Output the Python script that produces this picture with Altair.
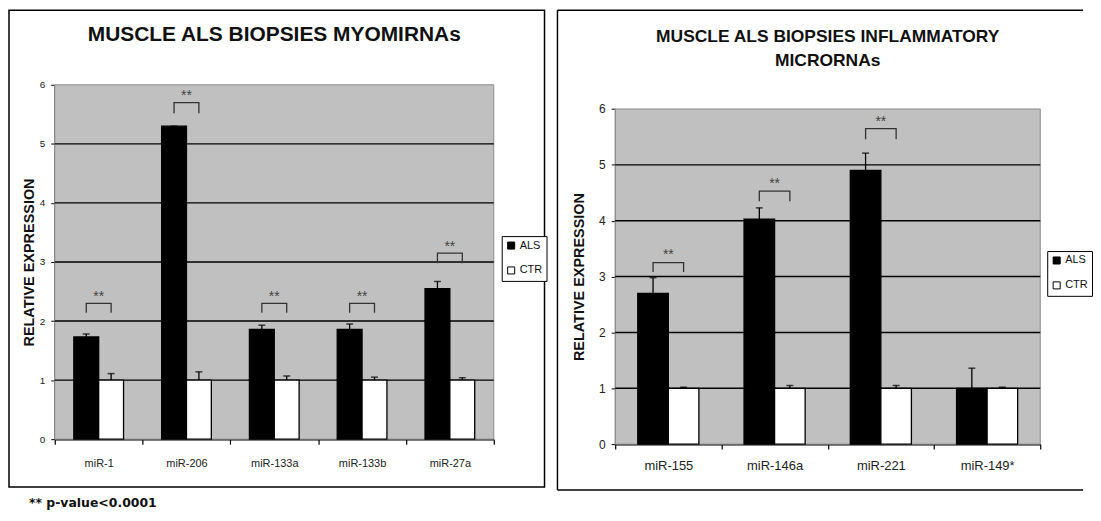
import altair as alt
import pandas as pd

# ---------------- data ----------------
groups = ["ALS", "CTR"]

left_title = "MUSCLE ALS BIOPSIES MYOMIRNAs"
left_cats = ["miR-1", "miR-206", "miR-133a", "miR-133b", "miR-27a"]
left_als = [1.73, 5.30, 1.86, 1.86, 2.55]
left_als_err = [1.78, 5.30, 1.93, 1.95, 2.67]
left_ctr = [1.00, 1.00, 1.00, 1.00, 1.00]
left_ctr_err = [1.11, 1.14, 1.07, 1.05, 1.04]
left_sig_cats = ["miR-1", "miR-206", "miR-133a", "miR-133b", "miR-27a"]
left_bracket = [2.30, 5.70, 2.30, 2.30, 3.15]
left_bracket_leg = [2.14, 5.52, 2.14, 2.14, 2.98]
left_star = [2.47, 5.88, 2.48, 2.48, 3.32]

right_title_1 = "MUSCLE ALS BIOPSIES INFLAMMATORY"
right_title_2 = "MICRORNAs"
right_cats = ["miR-155", "miR-146a", "miR-221", "miR-149*"]
right_als = [2.70, 4.03, 4.90, 1.00]
right_als_err = [2.98, 4.23, 5.21, 1.36]
right_ctr = [1.00, 1.00, 1.00, 1.00]
right_ctr_err = [1.02, 1.05, 1.05, 1.02]
right_sig_cats = ["miR-155", "miR-146a", "miR-221"]
right_bracket = [3.25, 4.53, 5.65]
right_bracket_leg = [3.08, 4.35, 5.46]
right_star = [3.46, 4.72, 5.83]

y_ticks = [0, 1, 2, 3, 4, 5, 6]
grid_vals = [1, 2, 3, 4, 5]
footnote = "** p-value<0.0001"
y_title = "RELATIVE EXPRESSION"

FONT = "Liberation Sans"
NO_VIEW = alt.ViewBackground(stroke="transparent", strokeWidth=0, fill="transparent")


def panel(cats, als, als_err, ctr, ctr_err, sig_cats, br, br_leg, star,
          W, yrange, off_pad, xlab_size, xlab_pad, ylab_size, ytitle_pad,
          legx, legy, leg_font):
    n = len(cats)
    bars = pd.DataFrame({
        "cat": cats + cats,
        "grp": [groups[0]] * n + [groups[1]] * n,
        "val": als + ctr,
        "err": als_err + ctr_err,
    })
    rows = []
    for c, t, l in zip(sig_cats, br, br_leg):
        rows += [
            {"cat": c, "grp": "ALS", "val": l, "o": 0},
            {"cat": c, "grp": "ALS", "val": t, "o": 1},
            {"cat": c, "grp": "CTR", "val": t, "o": 2},
            {"cat": c, "grp": "CTR", "val": l, "o": 3},
        ]
    brk = pd.DataFrame(rows)
    stars = pd.DataFrame({"cat": sig_cats, "val": star, "t": ["**"] * len(sig_cats)})
    grid = pd.DataFrame({"val": grid_vals})
    bg = pd.DataFrame({"val": [y_ticks[0]], "hi": [y_ticks[-1]]})

    xaxis = alt.Axis(title=None, labelAngle=0, tickBand="extent", tickSize=5,
                     tickColor="black", tickWidth=1.2, domainColor="black",
                     domainWidth=1.5, labelFontSize=xlab_size, labelPadding=xlab_pad,
                     labelColor="#222", labelFont=FONT)
    x = alt.X("cat:N", sort=cats, scale=alt.Scale(paddingInner=0, paddingOuter=0),
              axis=xaxis)
    xo = alt.XOffset("grp:N", sort=groups,
                     scale=alt.Scale(domain=groups, paddingInner=0, paddingOuter=off_pad))
    yaxis = alt.Axis(values=y_ticks, format="d", grid=False, title=y_title,
                     titleFont=FONT, titleFontSize=14.5, titleFontWeight="bold",
                     titleColor="#111", titlePadding=ytitle_pad, tickSize=4,
                     tickColor="black", domainColor="black", domainWidth=1.5,
                     labelFontSize=ylab_size, labelPadding=6, labelColor="#222",
                     labelFont=FONT)
    yscale = alt.Scale(domain=[0, 6], nice=False, zero=True, range=yrange)

    def Y(field):
        return alt.Y(field, scale=yscale, axis=yaxis)

    bgl = alt.Chart(bg).mark_rect(fill="#C0C0C0", stroke="#8a8a8a", strokeWidth=1).encode(
        x=alt.value(0), x2=alt.value(W), y=Y("val:Q"), y2="hi:Q")
    gridl = alt.Chart(grid).mark_rule(color="black", strokeWidth=1.4).encode(y=Y("val:Q"))
    barl = alt.Chart(bars).mark_bar(stroke="black", strokeWidth=1.3).encode(
        x=x, xOffset=xo, y=Y("val:Q"),
        color=alt.Color("grp:N", sort=groups,
                        scale=alt.Scale(domain=groups, range=["black", "white"]),
                        legend=alt.Legend(orient="none", legendX=legx, legendY=legy,
                                          title=None, strokeColor="black",
                                          fillColor="white", padding=4,
                                          symbolType="square", symbolSize=50,
                                          symbolStrokeColor="black",
                                          symbolStrokeWidth=1,
                                          labelFontSize=leg_font, labelFont=FONT,
                                          labelColor="#111", rowPadding=12,
                                          labelOffset=3)),
    )
    errl = alt.Chart(bars).mark_rule(color="black", strokeWidth=1.3).encode(
        x=x, xOffset=xo, y=Y("val:Q"), y2="err:Q")
    capl = alt.Chart(bars).mark_tick(color="black", thickness=1.5, size=7).encode(
        x=x, xOffset=xo, y=Y("err:Q"))
    brl = alt.Chart(brk).mark_line(color="#333", strokeWidth=1.3).encode(
        x=x, xOffset=xo, y=Y("val:Q"), detail="cat:N", order="o:Q")
    stl = alt.Chart(stars).mark_text(fontSize=14, color="#444", baseline="middle",
                                     dy=4, font=FONT).encode(
        x=x, y=Y("val:Q"), text="t:N")
    return bgl, gridl, barl, errl, capl, brl, stl


# ---------------- left panel (plot area 441 x 356) ----------------
LW, LH = 441, 356
lg = panel(left_cats, left_als, left_als_err, left_ctr, left_ctr_err, left_sig_cats,
           left_bracket, left_bracket_leg, left_star,
           LW, [LH, 0], 0.766, 11, 13, 10, 3, 449, 152, 11)
tdf = pd.DataFrame({"t": [left_title]})
ltitle = alt.Chart(tdf).mark_text(fontSize=21, fontWeight="bold", font=FONT,
                                  color="#111", baseline="middle", align="center").encode(
    x=alt.value(LW / 2), y=alt.value(-50.5), text="t:N")
fdf = pd.DataFrame({"t": [footnote]})
lfoot = alt.Chart(fdf).mark_text(fontSize=12.5, fontWeight="bold", font="DejaVu Sans",
                                 color="#111", baseline="middle", align="left").encode(
    x=alt.value(-26), y=alt.value(420), text="t:N")
lborder = alt.Chart(tdf).mark_rect(fill="white", fillOpacity=0, stroke="black",
                                   strokeWidth=1.5).encode(
    x=alt.value(-46), x2=alt.value(492), y=alt.value(-75), y2=alt.value(404))
left = alt.layer(lborder, *lg, ltitle, lfoot).properties(width=LW, height=LH,
                                                          view=NO_VIEW)

# ---------------- right panel (same view origin, plot area starts 24 px lower) --------
RW, RH = 427, 361
rg = panel(right_cats, right_als, right_als_err, right_ctr, right_ctr_err, right_sig_cats,
           right_bracket, right_bracket_leg, right_star,
           RW, [RH, 24.3], 0.739, 13, 10, 12, 12, 434, 167, 11)
r1 = pd.DataFrame({"t": [right_title_1]})
r2 = pd.DataFrame({"t": [right_title_2]})
rtitle1 = alt.Chart(r1).mark_text(fontSize=17.5, fontWeight="bold", font=FONT,
                                  color="#111", baseline="middle", align="center").encode(
    x=alt.value(RW / 2), y=alt.value(-48.5), text="t:N")
rtitle2 = alt.Chart(r2).mark_text(fontSize=17.5, fontWeight="bold", font=FONT,
                                  color="#111", baseline="middle", align="center").encode(
    x=alt.value(RW / 2), y=alt.value(-23.5), text="t:N")
rtop = alt.Chart(r1).mark_rule(color="black", strokeWidth=1.5).encode(
    x=alt.value(-58), x2=alt.value(470), y=alt.value(-75))
rleft = alt.Chart(r1).mark_rule(color="black", strokeWidth=1.5).encode(
    x=alt.value(-58), y=alt.value(-75), y2=alt.value(407))
rbot = alt.Chart(r1).mark_rule(color="black", strokeWidth=1.5).encode(
    x=alt.value(-58), x2=alt.value(470), y=alt.value(407))
right = alt.layer(rtop, rleft, rbot, *rg, rtitle1, rtitle2).properties(
    width=RW, height=RH, view=NO_VIEW)

chart = (
    alt.hconcat(left, right, spacing=9)
    .resolve_scale(color="independent", xOffset="independent")
    .resolve_legend(color="independent")
    .properties(padding=0, background="white")
    .configure_view(stroke="transparent", strokeWidth=0, fill="transparent")
    .configure(font=FONT)
)

chart.save("out.html", embed_options={"renderer": "svg", "actions": False})
